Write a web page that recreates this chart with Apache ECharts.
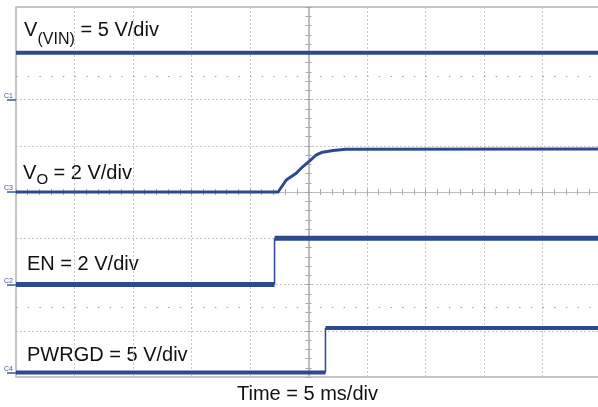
<!DOCTYPE html>
<html>
<head>
<meta charset="utf-8">
<script src="https://cdn.jsdelivr.net/npm/echarts@6.0.0/dist/echarts.min.js"></script>
<style>
  html, body { margin: 0; padding: 0; background: #fff; }
  #chart { width: 598px; height: 407px; }
</style>
</head>
<body>
<div id="chart"></div>
<script>
// scope channels, top to bottom: VIN, VO, EN, PWRGD
const channels = ['C1', 'C3', 'C2', 'C4']
const voltsPerDiv = [5, 2, 2, 5]
const groundDiv = [2, 0, -2, -3.9]

// time in ms from the trigger (centre of screen), 5 ms/div
const vinTime = [-25, 25]
const vinVolts = [5.05, 5.05]
const voTime = [-25, -2.6, -1.9, -1.05, -0.5, 0.1, 0.65, 1.2, 2.1, 3.2, 25]
const voVolts = [0, 0, 0.52, 0.81, 1.09, 1.35, 1.6, 1.72, 1.79, 1.85, 1.86]
const enTime = [-25, -2.9, -2.9, 25]
const enVolts = [0, 0, 2.0, 2.0]
const pgTime = [-25, 1.45, 1.45, 25]
const pgVolts = [0, 0, 4.8, 4.8]

const traceColor = '#2d4a8e'
const gridGray = '#c6c6c6'
const font = 'Arial, "Liberation Sans", sans-serif'

// thick trace, with vertical edges drawn thin like a fast scope transition
function trace(ch, times, volts, width) {
  const pts = times.map((t, i) => [t, groundDiv[ch] + volts[i] / voltsPerDiv[ch]])
  const flat = []
  const edges = []
  pts.forEach((p, i) => {
    if (i > 0 && p[0] === pts[i - 1][0]) {
      flat.push([p[0], '-'])
      edges.push(pts[i - 1], p, [p[0], '-'])
    }
    flat.push(p)
  })
  const base = {
    type: 'line',
    symbol: 'none',
    silent: true,
    animation: false,
    connectNulls: false,
    color: traceColor
  }
  const out = [Object.assign({}, base, {
    data: flat,
    lineStyle: { color: traceColor, width: width, join: 'round' }
  })]
  if (edges.length) {
    out.push(Object.assign({}, base, {
      data: edges,
      lineStyle: { color: traceColor, width: 1.5 }
    }))
  }
  return out
}

function centerAxis(pos, min, max, interval, lineWidth, withSplit) {
  return {
    type: 'value',
    position: pos,
    min: min,
    max: max,
    interval: interval,
    axisLine: { show: true, onZero: true, onZeroAxisIndex: 0, lineStyle: { color: '#bdbdbd', width: lineWidth } },
    axisTick: { show: true, length: 3, lineStyle: { color: '#a8a8a8' } },
    minorTick: { show: true, splitNumber: 5, length: 3, lineStyle: { color: '#a8a8a8' } },
    axisLabel: { show: false },
    splitLine: { show: withSplit, lineStyle: { type: [2, 2], color: gridGray } }
  }
}

const series = [].concat(
  trace(0, vinTime, vinVolts, 4),
  trace(1, voTime, voVolts, 3),
  trace(2, enTime, enVolts, 5),
  trace(3, pgTime, pgVolts, 4)
)
// half-division dotted rows
series[0].markLine = {
  silent: true,
  symbol: 'none',
  label: { show: false },
  lineStyle: { type: [1.5, 10.2], color: '#9a9a9a', width: 1 },
  data: [{ yAxis: 2.5 }, { yAxis: -2.5 }]
}

// text piece; y is the baseline
function txt(x, baseline, text, size) {
  return {
    type: 'text', x: x, y: baseline - 0.3465 * size, silent: true,
    style: { text: text, fill: '#111', font: size + 'px ' + font, verticalAlign: 'middle' }
  }
}

const option = {
  backgroundColor: '#fff',
  animation: false,
  grid: {
    left: 16, right: -3, top: 7, bottom: 30,
    show: true, borderColor: '#b4b4b4', borderWidth: 1.5,
    outerBoundsMode: 'none'
  },
  xAxis: [
    centerAxis('bottom', -25, 25, 5, 1, true),
    centerAxis('top', -25, 25, 5, 1, false)
  ],
  yAxis: [
    centerAxis('left', -4, 4, 1, 2, true),
    centerAxis('right', -4, 4, 1, 2, false),
    {
      type: 'value', position: 'left', min: -4, max: 4,
      axisLine: { show: false, onZero: false },
      axisTick: { show: true, customValues: groundDiv, length: 9, lineStyle: { color: '#3a58a0', width: 1.5 } },
      axisLabel: {
        show: true, customValues: groundDiv, fontSize: 7, color: '#3a58a0', margin: 3,
        verticalAlign: 'bottom', fontFamily: font,
        formatter: v => channels[groundDiv.indexOf(v)]
      },
      splitLine: { show: false }
    }
  ],
  series: series,
  graphic: [
    txt(24, 37.5, 'V', 20),
    txt(37.5, 45, '(VIN)', 16),
    txt(75, 37.5, ' = 5 V/div', 20),
    txt(23, 180, 'V', 20),
    txt(36.5, 185, 'O', 15),
    txt(48, 180, ' = 2 V/div', 20),
    txt(27, 271, 'EN = 2 V/div', 20),
    txt(27, 362, 'PWRGD = 5 V/div', 20),
    txt(237, 401.5, 'Time = 5 ms/div', 20)
  ]
}

const chart = echarts.init(document.getElementById('chart'))
chart.setOption(option)
</script>
</body>
</html>
